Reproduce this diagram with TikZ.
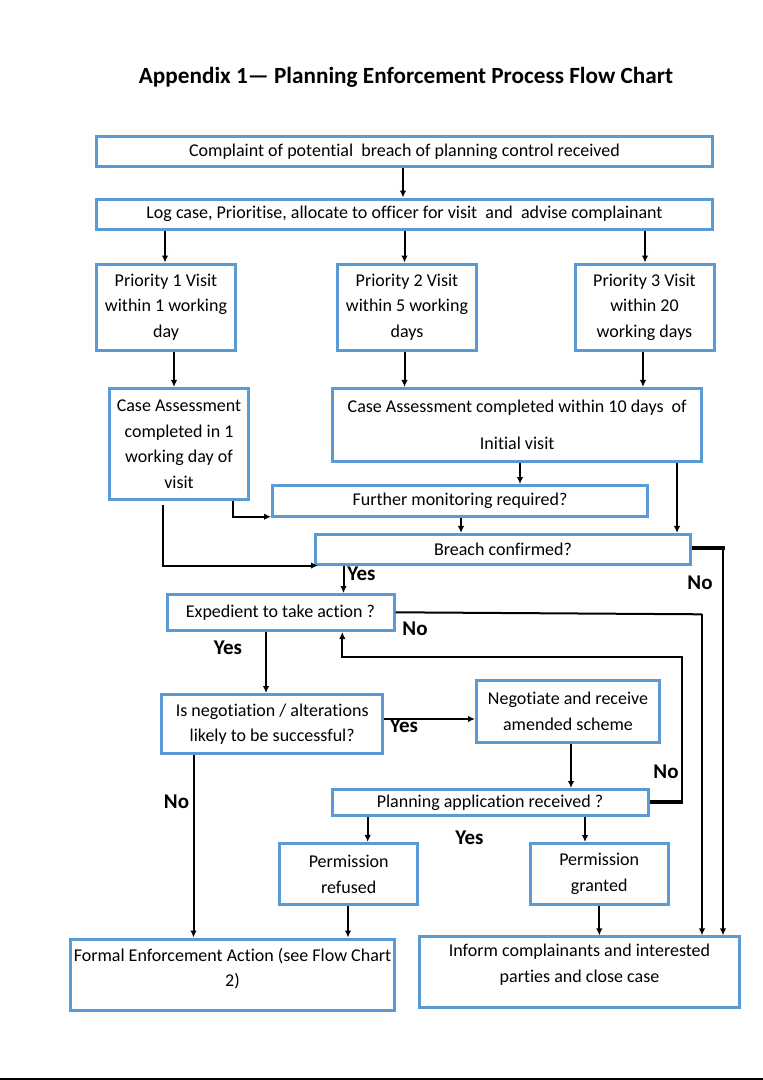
\documentclass[tikz,border=0pt]{standalone}
\usepackage{fontspec}
\setmainfont[Ligatures=NoCommon]{Carlito}
\usetikzlibrary{arrows.meta,calc}
\definecolor{boxblue}{RGB}{91,155,213}
\newcommand\bodyfnt{\fontsize{18}{25.5}\selectfont}
\newcommand\lblfnt{\bfseries\fontsize{21}{24}\selectfont}
\newcommand\ttlfnt{\bfseries\fontsize{23.2}{26}\selectfont}
\begin{document}
\begin{tikzpicture}[x=1pt,y=-1pt,
  box/.style={draw=boxblue,line width=3pt,inner sep=0pt,align=center,font=\bodyfnt},
  txt/.style={inner sep=0pt,align=center,font=\bodyfnt},
  arr/.style={-{Latex[length=7pt,width=6.5pt]},line width=2pt},
  ln/.style={line width=2pt},
  thk/.style={line width=4pt},
  lbl/.style={inner sep=0pt,font=\lblfnt},
  ttl/.style={inner sep=0pt,font=\ttlfnt}]
\fill[white] (0,0) rectangle (763,1080);
\useasboundingbox (0,0) rectangle (763,1080);

\node[ttl] (title) at (406,77) {Appendix 1— Planning Enforcement Process Flow Chart};

\node[box,minimum width=616pt,minimum height=30pt] (complaint) at (404.5,151.5) {Complaint of potential\ \ breach of planning control received};
\node[box,minimum width=616pt,minimum height=30pt] (log) at (404.5,214) {Log case, Prioritise, allocate to officer for visit\ \ and\ \ advise complainant};
\node[box,minimum width=139pt,minimum height=86pt] (p1) at (166,307) {Priority 1 Visit\\within 1 working\\day};
\node[box,minimum width=139pt,minimum height=86pt] (p2) at (407,307) {Priority 2 Visit\\within 5 working\\days};
\node[box,minimum width=139pt,minimum height=86pt] (p3) at (644.5,307) {Priority 3 Visit\\within 20\\working days};
\node[box,minimum width=139pt,minimum height=111.5pt] (ca1) at (179,444.2) {Case Assessment\\completed in 1\\working day of\\visit};
\node[box,minimum width=369.5pt,minimum height=73.5pt] (ca2) at (517.2,425.2) {Case Assessment completed within 10 days\ \ of\\[11.5pt]Initial visit};
\node[box,minimum width=375pt,minimum height=31pt] (further) at (460,501) {Further monitoring required?};
\node[box,minimum width=375pt,minimum height=30.5pt] (breach) at (503,549.7) {Breach confirmed?};
\node[box,minimum width=227pt,minimum height=36pt] (exped) at (280.5,612.5) {Expedient to take action ?};
\node[box,minimum width=221.5pt,minimum height=59pt] (nego) at (272.2,724) {Is negotiation / alterations\\likely to be successful?};
\node[box,minimum width=183pt,minimum height=62pt] (negrec) at (568,711.5) {Negotiate and receive\\amended scheme};
\node[box,minimum width=316pt,minimum height=26pt] (plan) at (490,802.5) {Planning application received ?};
\node[box,minimum width=137.5pt,minimum height=61.5pt] (refused) at (348.7,874.2) {Permission\\refused};
\node[box,minimum width=138pt,minimum height=61pt] (granted) at (599.2,874) {Permission\\granted};
\node[box,minimum width=324pt,minimum height=71pt] (formal) at (232.5,974.5) {};
\node[txt] (formaltxt) at ([yshift=6pt]formal.center) {Formal Enforcement Action (see Flow Chart\\2)};
\node[box,minimum width=320pt,minimum height=70.7pt] (inform) at (579.5,972.2) {};
\node[txt] (informtxt) at ([yshift=7.5pt]inform.center) {Inform complainants and interested\\parties and close case};

% x positions of vertical connectors
\coordinate (xa) at (403,0);
\coordinate (xb) at (165,0);
\coordinate (xc) at (404.5,0);
\coordinate (xd) at (645,0);
\coordinate (xe) at (174,0);
\coordinate (xf) at (643,0);
\coordinate (xg) at (520,0);
\coordinate (xh) at (677,0);
\coordinate (xi) at (232.6,0);
\coordinate (xj) at (163,0);
\coordinate (xk) at (461,0);
\coordinate (xl) at (343.5,0);
\coordinate (xm) at (723,0);
\coordinate (xn) at (702,0);
\coordinate (xo) at (266,0);
\coordinate (xp) at (342.3,0);
\coordinate (xq) at (682.4,0);
\coordinate (xr) at (571,0);
\coordinate (xs) at (193.5,0);
\coordinate (xt) at (367.7,0);
\coordinate (xu) at (585,0);
\coordinate (xv) at (348,0);
\coordinate (xw) at (599.3,0);
% y positions of horizontal connectors
\coordinate (ya) at (0,516.7);
\coordinate (yb) at (0,565.5);
\coordinate (yc) at (0,547.7);
\coordinate (yd) at (0,612.3);
\coordinate (ye) at (0,614.3);
\coordinate (yf) at (0,657.3);
\coordinate (yg) at (0,802);
\coordinate (yh) at (0,719);

\draw[arr] (complaint.south -| xa) -- (log.north -| xa);
\draw[arr] (log.south -| xb) -- (p1.north -| xb);
\draw[arr] (log.south -| xc) -- (p2.north -| xc);
\draw[arr] (log.south -| xd) -- (p3.north -| xd);
\draw[arr] (p1.south -| xe) -- (ca1.north -| xe);
\draw[arr] (p2.south -| xc) -- (ca2.north -| xc);
\draw[arr] (p3.south -| xf) -- (ca2.north -| xf);
\draw[arr] (ca2.south -| xg) -- (further.north -| xg);
\draw[arr] (ca2.south -| xh) -- (breach.north -| xh);
\draw[arr] (ca1.south -| xi) -- (xi |- ya) -- (further.west |- ya);
\draw[arr] ([yshift=-4pt]ca1.south -| xj) -- (xj |- yb) -- ([xshift=4pt]breach.west |- yb);
\draw[arr] (further.south -| xk) -- (breach.north -| xk);
\draw[arr] (breach.south -| xl) -- (exped.north -| xl);
\node[lbl] (yes1) at (361.5,574) {Yes};

\draw[thk] (breach.east |- yc) -- ([xshift=2pt]xm |- yc);
\draw[arr] (xm |- yc) -- (inform.north -| xm);
\node[lbl] (no1) at (700,583) {No};

\draw[ln] (exped.east |- yd) -- (xn |- ye);
\draw[arr] (xn |- ye) -- (inform.north -| xn);
\node[lbl] (no2) at (415,629) {No};

\draw[arr] (exped.south -| xo) -- (nego.north -| xo);
\node[lbl] (yes2) at (228,648) {Yes};

\draw[thk] (plan.east |- yg) -- ([xshift=1pt]xq |- yg);
\draw[arr] (xq |- yg) -- (xq |- yf) -- (xp |- yf) -- (exped.south -| xp);
\node[lbl] (no3) at (666,771.5) {No};

\draw[arr] (nego.east |- yh) -- (negrec.west |- yh);
\node[lbl] (yes3) at (404,726) {Yes};

\draw[arr] (negrec.south -| xr) -- (plan.north -| xr);
\draw[arr] (nego.south -| xs) -- (formal.north -| xs);
\node[lbl] (no4) at (176.5,801.5) {No};

\draw[arr] (plan.south -| xt) -- (refused.north -| xt);
\draw[arr] (plan.south -| xu) -- (granted.north -| xu);
\node[lbl] (yes4) at (469.5,838) {Yes};

\draw[arr] (refused.south -| xv) -- (formal.north -| xv);
\draw[arr] (granted.south -| xw) -- (inform.north -| xw);

\draw[line width=2pt] (0,1079) -- (763,1079);
\end{tikzpicture}
\end{document}
